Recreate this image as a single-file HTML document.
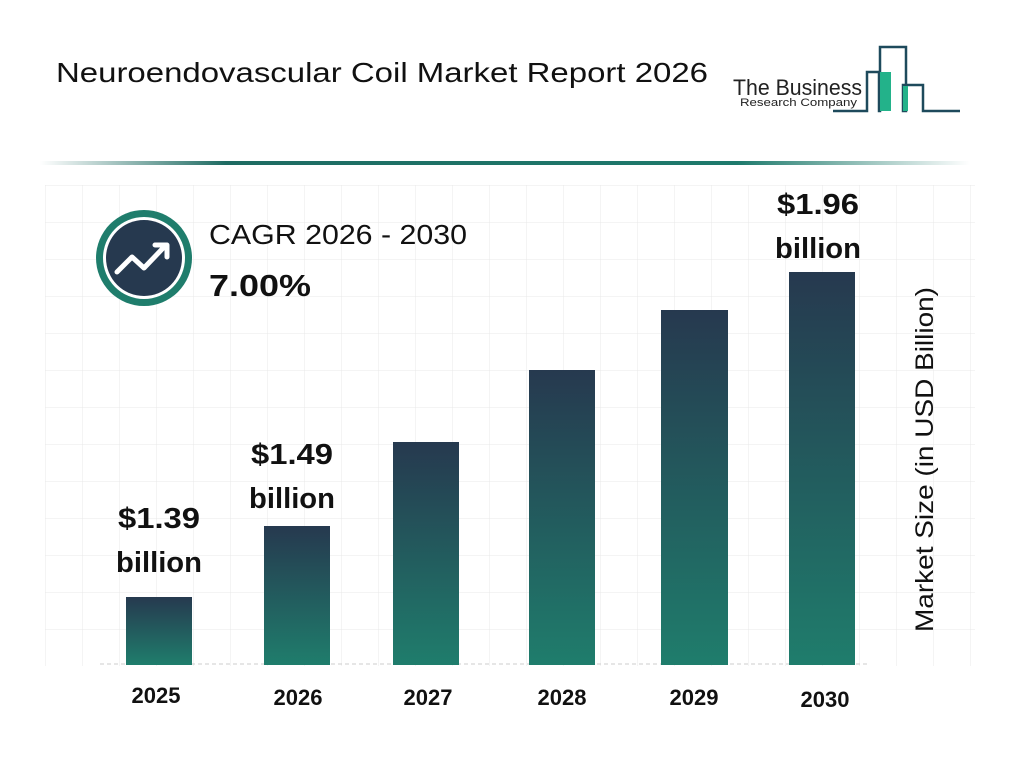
<!DOCTYPE html>
<html><head><meta charset="utf-8"><style>
body{margin:0;width:1024px;height:768px;background:#fff;font-family:"Liberation Sans",sans-serif;overflow:hidden}
</style></head><body>
<svg width="1024" height="768" xmlns="http://www.w3.org/2000/svg">
<defs>
<linearGradient id="g" x1="0" y1="0" x2="0" y2="1"><stop offset="0" stop-color="#26394f"/><stop offset="1" stop-color="#1f7d6c"/></linearGradient>
<linearGradient id="ln" x1="0" y1="0" x2="1" y2="0"><stop offset="0" stop-color="#fff"/><stop offset="0.2" stop-color="#1e6b62"/><stop offset="0.75" stop-color="#1e7a6c"/><stop offset="1" stop-color="#fff"/></linearGradient>
<pattern id="grid" x="8" y="0" width="37" height="37" patternUnits="userSpaceOnUse"><path d="M0 0V37M0 0H37" stroke="#e8e8e8" stroke-width="1" fill="none"/></pattern>
</defs>
<text x="56" y="82" font-size="28" fill="#111" textLength="652" lengthAdjust="spacingAndGlyphs">Neuroendovascular Coil Market Report 2026</text>
<text x="733" y="95" font-size="22" fill="#222" textLength="129" lengthAdjust="spacingAndGlyphs">The Business</text>
<text x="740" y="106" font-size="11" fill="#222" textLength="117" lengthAdjust="spacingAndGlyphs">Research Company</text>
<path d="M833 111H867V72H879V111H880V47H906V111H903V85H923V111H960" stroke="#1e4a5c" stroke-width="2.5" fill="none"/>
<rect x="880" y="72" width="11" height="39" fill="#23b28a"/>
<rect x="903" y="86" width="5" height="25" fill="#23b28a"/>
<rect x="40" y="161" width="930" height="4" fill="url(#ln)"/>
<rect x="45" y="185" width="930" height="481" fill="url(#grid)"/>
<line x1="100" y1="664" x2="870" y2="664" stroke="#ccc" stroke-dasharray="4 3"/>
<g fill="url(#g)">
<rect x="126" y="597" width="66" height="68"/>
<rect x="264" y="526" width="66" height="139"/>
<rect x="393" y="442" width="66" height="223"/>
<rect x="529" y="370" width="66" height="295"/>
<rect x="661" y="310" width="67" height="355"/>
<rect x="789" y="272" width="66" height="393"/>
</g>
<circle cx="144" cy="258" r="48" fill="#1f7d6c"/>
<circle cx="144" cy="258" r="41" fill="#fff"/>
<circle cx="144" cy="258" r="38" fill="#26394f"/>
<path d="M117 272L132 257L144 268L166 245M155 245H167V257" stroke="#fff" stroke-width="5" fill="none" stroke-linecap="round" stroke-linejoin="round"/>
<text x="209" y="244" font-size="28" fill="#111" textLength="258" lengthAdjust="spacingAndGlyphs">CAGR 2026 - 2030</text>
<text x="209" y="296" font-size="31" font-weight="bold" fill="#111" textLength="102" lengthAdjust="spacingAndGlyphs">7.00%</text>
<g font-size="29" font-weight="bold" fill="#111" text-anchor="middle">
<text x="159" y="528" textLength="82" lengthAdjust="spacingAndGlyphs">$1.39</text><text x="159" y="572" textLength="86" lengthAdjust="spacingAndGlyphs">billion</text>
<text x="292" y="464" textLength="82" lengthAdjust="spacingAndGlyphs">$1.49</text><text x="292" y="508" textLength="86" lengthAdjust="spacingAndGlyphs">billion</text>
<text x="818" y="214" textLength="82" lengthAdjust="spacingAndGlyphs">$1.96</text><text x="818" y="258" textLength="86" lengthAdjust="spacingAndGlyphs">billion</text>
</g>
<g font-size="22" font-weight="bold" fill="#111" text-anchor="middle">
<text x="156" y="703">2025</text><text x="298" y="705">2026</text><text x="428" y="705">2027</text>
<text x="562" y="705">2028</text><text x="694" y="705">2029</text><text x="825" y="707">2030</text>
</g>
<text transform="translate(933,632) rotate(-90)" font-size="25" fill="#111" textLength="345" lengthAdjust="spacingAndGlyphs">Market Size (in USD Billion)</text>
</svg>
</body></html>
